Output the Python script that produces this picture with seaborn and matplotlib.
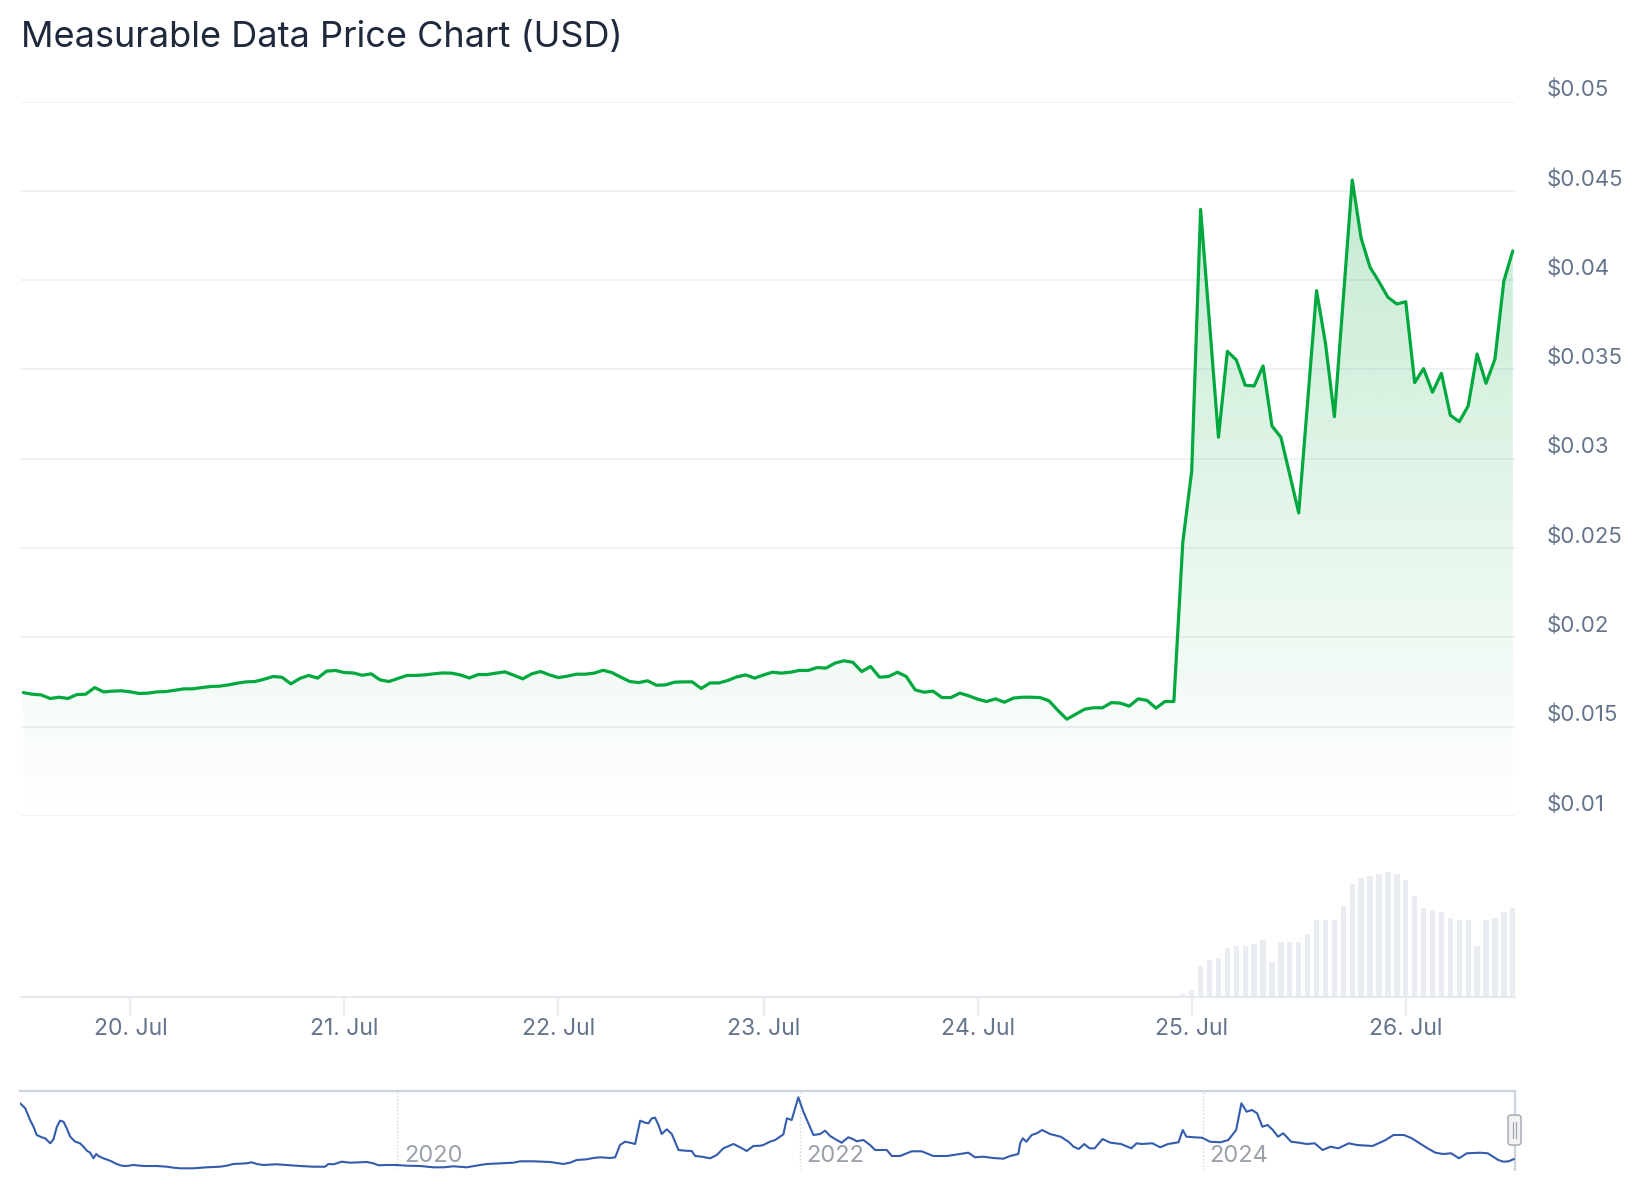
import numpy as np
import pandas as pd
import matplotlib
matplotlib.use("Agg")
import matplotlib.pyplot as plt
import matplotlib.dates as mdates
import matplotlib.transforms as mtransforms
from matplotlib.patches import FancyBboxPatch
from matplotlib.lines import Line2D
import seaborn as sns

# ---------------- data ----------------
title = "Measurable Data Price Chart (USD)"
# hourly points (ordinal axis, one hour missing on 22 Jul)
start_time = "2025-07-19 12:00"
missing_hour = "2025-07-22 11:00"

price_usd = [
    0.01690, 0.01681, 0.01677, 0.01657, 0.01664, 0.01657, 0.01679, 0.01681, 0.01718, 0.01694,
    0.01698, 0.01700, 0.01694, 0.01685, 0.01687, 0.01694, 0.01696, 0.01703, 0.01711, 0.01711,
    0.01718, 0.01724, 0.01726, 0.01733, 0.01743, 0.01750, 0.01752, 0.01765, 0.01780, 0.01776,
    0.01739, 0.01769, 0.01786, 0.01771, 0.01810, 0.01814, 0.01802, 0.01800, 0.01787, 0.01795,
    0.01761, 0.01752, 0.01769, 0.01786, 0.01786,
    0.01789, 0.01795, 0.01800, 0.01799, 0.01789, 0.01772, 0.01791, 0.01791, 0.01799, 0.01806,
    0.01787, 0.01767, 0.01795, 0.01808, 0.01789, 0.01774, 0.01782, 0.01793, 0.01793, 0.01799,
    0.01815, 0.01802, 0.01776, 0.01752, 0.01746, 0.01756, 0.01731, 0.01733, 0.01748, 0.01750,
    0.01750, 0.01713, 0.01744, 0.01744, 0.01758, 0.01778, 0.01789, 0.01771, 0.01789, 0.01804,
    0.01799, 0.01804, 0.01814, 0.01814, 0.01830,
    0.01827, 0.01855, 0.01868, 0.01860, 0.01808, 0.01836, 0.01776, 0.01780, 0.01804, 0.01780,
    0.01705, 0.01692, 0.01698, 0.01662, 0.01662, 0.01687, 0.01672, 0.01653, 0.01640, 0.01655,
    0.01636, 0.01659, 0.01664, 0.01664, 0.01662, 0.01644, 0.01590, 0.01541, 0.01569, 0.01597,
    0.01605, 0.01605, 0.01634, 0.01631, 0.01614, 0.01655, 0.01646, 0.01603, 0.01640, 0.01640,
    0.02530, 0.02930, 0.04396, 0.03758, 0.03120, 0.03601, 0.03553, 0.03411, 0.03407, 0.03519,
    0.03183, 0.03120, 0.02910, 0.02696, 0.03320, 0.03941, 0.03646, 0.03235, 0.03898, 0.04560,
    0.04234, 0.04072, 0.03991, 0.03904, 0.03866, 0.03879, 0.03426, 0.03504, 0.03372, 0.03478,
    0.03243, 0.03207, 0.03295, 0.03586, 0.03422, 0.03557, 0.03995, 0.04163,
]

# hourly volume (relative units); zero before the listing spike
volume_zero_hours = 130
volume_active = [
    8, 20, 92, 110, 116, 146, 152, 152, 158, 170,
    104, 164, 164, 164, 188, 230, 230, 230, 272, 338,
    356, 362, 368, 374, 368, 350, 302, 266, 260, 254,
    236, 230, 230, 152, 230, 236, 254, 266,
]

y_ticks = [0.01, 0.015, 0.02, 0.025, 0.03, 0.035, 0.04, 0.045, 0.05]
x_tick_days = ["2025-07-20", "2025-07-21", "2025-07-22", "2025-07-23",
               "2025-07-24", "2025-07-25", "2025-07-26"]

# navigator: long history (decimal year, relative price level)
nav_years = [
    2018.131, 2018.156, 2018.180, 2018.197, 2018.213, 2018.238, 2018.255, 2018.280, 2018.296, 2018.313,
    2018.329, 2018.346, 2018.362, 2018.379, 2018.404, 2018.428, 2018.445, 2018.462, 2018.478, 2018.495,
    2018.508, 2018.519, 2018.544, 2018.577, 2018.610, 2018.635, 2018.660, 2018.693, 2018.743, 2018.809,
    2018.859, 2018.892, 2018.925, 2018.991, 2019.057, 2019.123, 2019.156, 2019.189, 2019.256, 2019.280,
    2019.305, 2019.338, 2019.404, 2019.471, 2019.520, 2019.586, 2019.644, 2019.661, 2019.686, 2019.727,
    2019.768, 2019.851, 2019.884, 2019.909, 2019.950, 2020.000, 2020.050, 2020.116, 2020.182, 2020.232,
    2020.281, 2020.347, 2020.414, 2020.447, 2020.513, 2020.579, 2020.612,
    2020.678, 2020.761, 2020.827, 2020.860, 2020.893, 2020.943, 2020.976, 2021.009, 2021.059, 2021.084,
    2021.108, 2021.133, 2021.158, 2021.183, 2021.208, 2021.233, 2021.249, 2021.266, 2021.282, 2021.299,
    2021.315, 2021.340, 2021.365, 2021.398, 2021.431, 2021.464, 2021.481, 2021.514, 2021.555, 2021.588,
    2021.621, 2021.671, 2021.704, 2021.737, 2021.770, 2021.803, 2021.820, 2021.836, 2021.853, 2021.878,
    2021.919, 2021.936, 2021.960, 2021.993, 2022.018, 2022.068, 2022.101, 2022.126, 2022.151, 2022.184,
    2022.208, 2022.241, 2022.266, 2022.283, 2022.316, 2022.349, 2022.374, 2022.432, 2022.457, 2022.498,
    2022.556, 2022.605, 2022.663, 2022.730, 2022.796, 2022.837, 2022.870, 2022.911, 2022.961, 2023.011,
    2023.044, 2023.085, 2023.094, 2023.107, 2023.125, 2023.151, 2023.177, 2023.203, 2023.242, 2023.295,
    2023.334, 2023.359, 2023.385, 2023.412, 2023.438, 2023.464, 2023.503, 2023.542, 2023.594, 2023.646,
    2023.672, 2023.698, 2023.750, 2023.789, 2023.828, 2023.880, 2023.901, 2023.919, 2023.958, 2023.997,
    2024.036, 2024.088, 2024.127, 2024.166, 2024.192, 2024.218, 2024.244, 2024.270, 2024.296, 2024.322,
    2024.348, 2024.374, 2024.400, 2024.439, 2024.478, 2024.517, 2024.556, 2024.595, 2024.634, 2024.673,
    2024.725, 2024.765, 2024.843, 2024.908, 2024.947, 2024.999, 2025.038, 2025.077, 2025.116, 2025.155,
    2025.194, 2025.233, 2025.272, 2025.311, 2025.376, 2025.415, 2025.467, 2025.493, 2025.519, 2025.545,
]
nav_values = [
    66.7, 61.7, 50.0, 43.3, 35.0, 32.7, 31.7, 26.7, 30.7, 43.3,
    49.3, 48.3, 41.7, 33.3, 28.3, 26.7, 23.3, 19.3, 17.3, 11.7,
    16.0, 14.0, 11.7, 9.3, 6.0, 4.3, 4.0, 5.0, 4.0, 4.0,
    3.3, 2.3, 1.7, 1.7, 2.7, 3.3, 4.3, 6.0, 6.7, 7.7,
    6.0, 5.0, 5.7, 4.7, 4.0, 3.3, 3.3, 6.0, 5.7, 8.3,
    7.3, 8.0, 6.7, 4.7, 5.0, 5.0, 4.3, 4.0, 2.7, 2.7,
    3.7, 2.7, 5.0, 6.0, 6.7, 7.3, 8.7,
    8.7, 8.0, 6.0, 7.3, 10.0, 10.7, 12.0, 12.7, 12.0, 12.7,
    25.0, 28.3, 27.3, 26.0, 49.3, 47.3, 46.7, 51.7, 52.3, 45.0,
    36.0, 40.7, 36.0, 20.0, 19.3, 19.0, 14.0, 13.3, 11.7, 15.0,
    21.7, 26.0, 22.7, 19.0, 24.0, 24.3, 25.0, 26.7, 28.3, 30.0,
    35.7, 51.7, 50.0, 72.7, 58.3, 35.0, 36.0, 39.3, 34.0, 30.0,
    27.3, 32.7, 30.7, 28.7, 30.0, 25.0, 20.0, 20.0, 14.0, 14.0,
    18.7, 18.7, 14.0, 14.0, 16.0, 17.3, 12.7, 13.3, 12.0, 11.3,
    14.0, 16.0, 26.7, 31.7, 28.3, 35.0, 36.7, 40.0, 36.0, 33.3,
    28.3, 23.3, 21.0, 26.0, 21.7, 21.7, 31.0, 27.3, 26.0, 21.7,
    26.7, 26.0, 26.7, 22.7, 26.0, 27.7, 40.0, 33.3, 32.7, 32.3,
    28.3, 27.7, 30.0, 40.0, 66.7, 58.3, 60.0, 56.7, 43.3, 45.0,
    40.0, 33.3, 36.7, 28.3, 27.3, 26.0, 26.7, 20.0, 23.3, 21.7,
    26.7, 25.0, 24.0, 30.0, 35.0, 35.0, 31.7, 26.7, 21.7, 17.3,
    16.0, 16.7, 11.7, 16.7, 17.3, 16.7, 10.0, 8.3, 8.7, 11.0,
]
nav_year_ticks = [2020, 2022, 2024]

# ---------------- styling ----------------
sns.set_theme(style="white")
plt.rcParams["font.family"] = ["Inter", "DejaVu Sans"]

W, H = 1644, 1200
DPI = 100
fig = plt.figure(figsize=(W / DPI, H / DPI), dpi=DPI)
fig.patch.set_facecolor("white")


def fax(x0, y_top, x1, y_bot):
    return [x0 / W, 1 - y_bot / H, (x1 - x0) / W, (y_bot - y_top) / H]


GREEN = "#00a83e"
GRID = "#eceff3"
LABEL = "#64748b"

# timestamps (hourly, minus one missing hour) -> ordinal positions
all_hours = pd.date_range(start_time, periods=len(price_usd) + 1, freq="h")
times = all_hours[all_hours != pd.Timestamp(missing_hour)][:len(price_usd)]
tnum = mdates.date2num(times)
pos = np.arange(len(price_usd), dtype=float)          # ordinal x
xlim = (pos[0] - 0.26, pos[-1] + 0.25)
tick_pos = np.interp(mdates.date2num(pd.to_datetime(x_tick_days)), tnum, pos)
tick_lab = [pd.Timestamp(d).strftime("%d. %b") for d in x_tick_days]

df = pd.DataFrame({"pos": pos, "price": price_usd})

# ---------------- price pane ----------------
ax = fig.add_axes(fax(21, 101.5, 1515, 815.8))
ax.set_facecolor("none")
poly = ax.fill_between(pos, price_usd, 0.01, color="none", lw=0)
grad = np.zeros((256, 1, 4))
grad[..., 1] = 168 / 255
grad[..., 2] = 62 / 255
grad[:, 0, 3] = np.linspace(0.26, 0.0, 256)
im = ax.imshow(grad, extent=[xlim[0], xlim[1], 0.01, 0.05], origin="upper",
               aspect="auto", zorder=1, interpolation="bilinear")
im.set_clip_path(poly.get_paths()[0], transform=ax.transData)

sns.lineplot(data=df, x="pos", y="price", ax=ax, color=GREEN, lw=2.3, zorder=3)
ax.set_xlim(*xlim)
ax.set_ylim(0.01, 0.05)
ax.set_yticks(y_ticks)
ax.grid(axis="y", color=GRID, lw=1.2, zorder=0)
ax.grid(axis="x", visible=False)
ax.set_xticks([])
ax.tick_params(axis="y", left=False, right=False, labelleft=False, labelright=False)
ax.set_xlabel("")
ax.set_ylabel("")
for s in ax.spines.values():
    s.set_visible(False)

lab_tr = mtransforms.blended_transform_factory(fig.transFigure, ax.transData) + \
    mtransforms.ScaledTranslation(0, 11.5 / DPI, fig.dpi_scale_trans)
for v in y_ticks:
    fig.text(1547 / W, v, f"${v:g}", transform=lab_tr, ha="left", va="center",
             fontsize=16, color=LABEL)

# ---------------- volume pane ----------------
volume = [0] * volume_zero_hours + volume_active
axv = fig.add_axes(fax(21, 816, 1515, 997))
axv.set_facecolor("none")
axv.bar(pos, volume, width=0.6, color="#e9edf2", lw=0, zorder=2)
axv.set_xlim(*xlim)
axv.set_ylim(0, 543)
axv.set_yticks([])
for k, s in axv.spines.items():
    s.set_visible(k == "bottom")
axv.spines["bottom"].set_color("#e6e9ef")
axv.spines["bottom"].set_linewidth(1.5)
axv.set_xticks(tick_pos)
axv.set_xticklabels(tick_lab)
axv.tick_params(axis="x", bottom=True, length=14, width=1.2, color="#e6e9ef",
                labelsize=16.5, labelcolor=LABEL, pad=1)
axv.grid(False)

# ---------------- title ----------------
fig.text(21 / W, 1 - 38 / H, title, ha="left", va="center", fontsize=26,
         color="#1e293b")

# ---------------- navigator ----------------
axn = fig.add_axes(fax(20, 1091, 1515, 1170))
axn.set_facecolor("none")
nav_df = pd.DataFrame({"year": nav_years, "value": nav_values})
sns.lineplot(data=nav_df, x="year", y="value", ax=axn, color="#335cad", lw=1.5, zorder=3)
axn.set_xlim(2018.130, 2025.550)
axn.set_ylim(0, 79)
axn.set_xticks([])
axn.set_yticks([])
axn.set_xlabel("")
axn.set_ylabel("")
for k, s in axn.spines.items():
    s.set_visible(k in ("top", "right"))
for k in ("top", "right"):
    axn.spines[k].set_color("#cbd3df")
    axn.spines[k].set_linewidth(1.6)
yr_tr = mtransforms.blended_transform_factory(axn.transData, axn.transAxes) + \
    mtransforms.ScaledTranslation(7 / DPI, 0, fig.dpi_scale_trans)
for yr in nav_year_ticks:
    axn.axvline(yr, color="#c9dcd6", lw=1.0, ls=(0, (1, 1.5)), zorder=1)
    axn.text(yr, 0.18, str(yr), transform=yr_tr, ha="left", va="center",
             fontsize=17, color="#9aa1ab")

# navigator handle
handle = FancyBboxPatch((1508 / W, 1 - 1145 / H), 13 / W, 30 / H,
                        boxstyle="round,pad=0,rounding_size=0.002",
                        transform=fig.transFigure, facecolor="#f2f2f2",
                        edgecolor="#a0a7b2", lw=1.0, zorder=5)
fig.add_artist(handle)
for dx in (1513, 1516):
    fig.add_artist(Line2D([dx / W, dx / W], [1 - 1122 / H, 1 - 1138 / H],
                          transform=fig.transFigure, color="#a0a7b2", lw=0.9, zorder=6))

fig.savefig("out.png", dpi=DPI, facecolor="white")
